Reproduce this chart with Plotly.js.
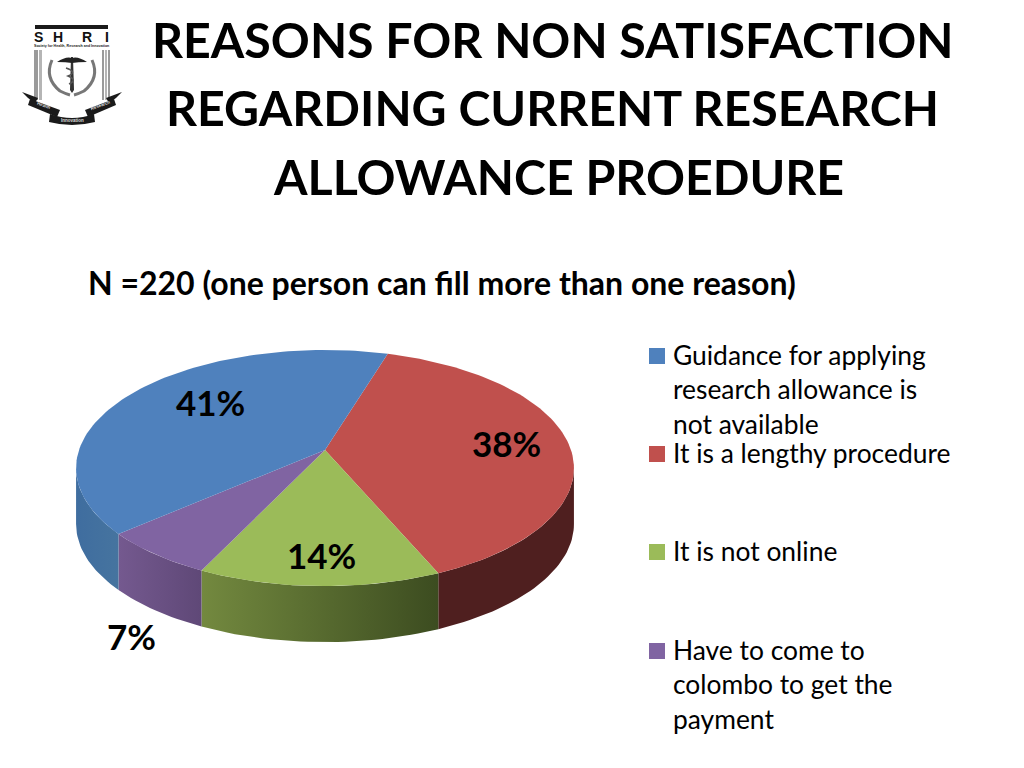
<!DOCTYPE html>
<html>
<head>
<meta charset="utf-8">
<script src="https://cdn.plot.ly/plotly-3.0.1.min.js"></script>
<style>html,body{margin:0;padding:0;background:#fff}#chart{width:1024px;height:768px}</style>
</head>
<body>
<div id="chart"></div>
<script>
// Data
const titleLines = ["REASONS FOR NON SATISFACTION", "REGARDING CURRENT RESEARCH", "ALLOWANCE PROEDURE"];
const subtitle = "N =220 (one person can fill more than one reason)";
const categories = [
  "Guidance for applying<br>research allowance is<br>not available",
  "It is a lengthy procedure",
  "It is not online",
  "Have to come to<br>colombo to get the<br>payment"
];
// Slice sizes (percent of the disc)
const values = [41.1, 38.8, 13.6, 6.5];
// Percentages as printed on the chart
const valueLabels = ["41%", "38%", "14%", "7%"];

// Style and layout
const topColors = ["#4f81bd", "#c0504d", "#9bbb59", "#8064a2"];
const wallScales = [
  [[0, "#3f6d9f"], [1, "#46749f"]],
  [[0, "#4f1f1f"], [1, "#4f1f1f"]],
  [[0, "#73893f"], [0.55, "#55682e"], [1, "#3c4c20"]],
  [[0, "#74598f"], [1, "#5f4877"]]
];
const titleY = [39, 106.5, 176], titleX = [553, 552.5, 558];
const labelPos = [[210.5, 401.5], [506, 442.5], [321, 554.5], [131, 635.5]];
const swatchY = [356, 454, 552, 651];
const legendTextY = [354.5, 452.5, 550.5, 649.5];
const FONT = "Lato, Carlito, 'Open Sans', sans-serif";
const LOGOFONT = "'Liberation Sans', sans-serif";

// Perspective disc: apex, scales, tilt, wall depth, start angle
const CX = 325, CY = 450, A = 115.3, B = 246, K = 0.153, DEPTH = 56, START = 17;
function project(tDeg, drop) {
  const t = tDeg * Math.PI / 180, u = Math.sin(t), v = -Math.cos(t), w = 1 - K * v;
  return [CX + B * u / w, CY + A * v / w + drop];
}
function arc(t0, t1, drop) {
  const pts = [], n = Math.max(2, Math.ceil(Math.abs(t1 - t0) / 1.5));
  for (let i = 0; i <= n; i++) pts.push(project(t0 + (t1 - t0) * i / n, drop));
  return pts;
}
const total = values.reduce((a, b) => a + b, 0);
// Slice order clockwise: red, green, purple, blue, starting at the red/blue edge
const order = [1, 2, 3, 0];
const VIS0 = 98.8, VIS1 = 261.2;
const traces = [];
let angle = START;
const spans = order.map(i => {
  const s = { i, t0: angle, t1: angle + values[i] / total * 360 };
  angle = s.t1;
  return s;
});
// Side walls
spans.forEach(s => {
  const a0 = Math.max(s.t0, VIS0), a1 = Math.min(s.t1, VIS1);
  if (a1 <= a0) return;
  const pts = arc(a0, a1, 0).concat(arc(a1, a0, DEPTH));
  pts.push(pts[0]);
  const sc = wallScales[s.i];
  traces.push({
    type: "scatter", mode: "lines", hoverinfo: "skip", showlegend: false,
    x: pts.map(p => p[0]), y: pts.map(p => p[1]),
    line: { width: 0, color: sc[0][1] }, fill: "toself",
    fillgradient: { type: "horizontal", colorscale: sc }
  });
});
// Top faces
spans.forEach(s => {
  const pts = [[CX, CY]].concat(arc(s.t0, s.t1, 0));
  pts.push([CX, CY]);
  traces.push({
    type: "scatter", mode: "lines", name: categories[s.i].replace(/<br>/g, " "),
    x: pts.map(p => p[0]), y: pts.map(p => p[1]),
    line: { width: 0, color: topColors[s.i] }, fill: "toself", fillcolor: topColors[s.i],
    hoverinfo: "name", showlegend: false
  });
});

const annotations = [];
const note = (x, y, text, size, extra) => annotations.push(Object.assign({
  x, y, xref: "x", yref: "y", text, showarrow: false, xanchor: "center", yanchor: "middle",
  font: { family: FONT, size, color: "#000" }
}, extra || {}));

titleLines.forEach((t, i) => note(titleX[i], titleY[i], "<b>" + t + "</b>", 48.3));
valueLabels.forEach((t, i) => note(labelPos[i][0], labelPos[i][1], "<b>" + t + "</b>", 35));
note(86, 282, "<b>" + subtitle + "</b>", 32, { xanchor: "left" });
categories.forEach((c, i) => {
  c.split("<br>").forEach((ln, j) => note(671, legendTextY[i] + j * 34.7, ln, 26.4, { xanchor: "left" }));
});

const shapes = swatchY.map((y, i) => ({
  type: "rect", xref: "x", yref: "y", x0: 649, x1: 665, y0: y - 8, y1: y + 8,
  fillcolor: topColors[i], line: { width: 0 }
}));

// Logo (decorative)
const logoDark = "#1a1a1a";
const rect = (x0, y0, x1, y1, c) => shapes.push({ type: "rect", xref: "x", yref: "y", x0, y0, x1, y1, fillcolor: c, line: { width: 0 } });
const path = (d, fill, stroke, w) => shapes.push({ type: "path", xref: "x", yref: "y", path: d, fillcolor: fill || "rgba(0,0,0,0)", line: { color: stroke || "rgba(0,0,0,0)", width: w || 0 } });
rect(35, 25, 108, 29, logoDark);
rect(34, 50, 38, 100, "#9a9a9a"); rect(39, 50, 42, 100, "#b5b5b5");
rect(102, 50, 104, 100, "#9a9a9a"); rect(105, 50, 107, 100, "#b5b5b5"); rect(108, 50, 110, 100, "#9a9a9a");
path("M 52 60 Q 44 78 60 91 Q 66 94 70 95", null, "#777", 3);
path("M 92 60 Q 100 78 84 91 Q 78 94 74 95", null, "#777", 3);
path("M 71 57 L 73 57 L 74 90 L 72 93 L 70 90 Z", "#333");
path("M 57 62 Q 66 56 72 58 Q 78 56 87 62 Q 78 62 72 63 Q 66 62 57 62 Z", "#222");
path("M 66 68 Q 78 72 68 76 Q 78 80 69 84", null, "#555", 1.5);
path("M 22 92 L 38 98 L 35 103 L 28 98 Z", logoDark);
path("M 122 92 L 106 98 L 109 103 L 116 98 Z", logoDark);
path("M 30 99 L 60 110 L 57 117 L 28 105 Z", logoDark);
path("M 114 99 L 85 110 L 88 117 L 116 105 Z", logoDark);
path("M 50 114 Q 72 122 94 114 L 95 122 Q 72 128 49 122 Z", logoDark);
const logoFont = (size, color) => ({ font: { family: LOGOFONT, size, color } });
[["S", 38], ["H", 58], ["R", 87], ["I", 107]].forEach(l => note(l[1], 37, "<b>" + l[0] + "</b>", 14, logoFont(14, "#111")));
note(71.5, 46, "<b>Society for Health, Research and Innovation</b>", 3.6, logoFont(3.6, "#222"));
note(44, 105, "<b>Health</b>", 4.5, Object.assign(logoFont(4.5, "#ddd"), { textangle: 20 }));
note(72, 120, "<b>Innovation</b>", 4.5, logoFont(4.5, "#ddd"));
note(100, 105, "<b>Research</b>", 4.5, Object.assign(logoFont(4.5, "#ddd"), { textangle: -20 }));

const layout = {
  width: 1024, height: 768,
  margin: { l: 0, r: 0, t: 0, b: 0 },
  paper_bgcolor: "#fff", plot_bgcolor: "#fff",
  showlegend: false,
  xaxis: { range: [0, 1024], visible: false, fixedrange: true },
  yaxis: { range: [768, 0], visible: false, fixedrange: true },
  shapes, annotations
};
Plotly.newPlot("chart", traces, layout, { displayModeBar: false, responsive: false });
</script>
</body>
</html>
